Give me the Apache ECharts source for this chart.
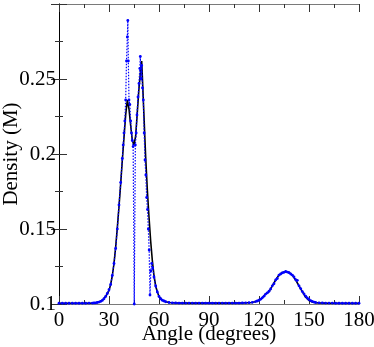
<!DOCTYPE html>
<html>
<head>
<meta charset="utf-8">
<script src="https://cdn.jsdelivr.net/npm/echarts@6/dist/echarts.min.js"></script>
<style>
  html, body { margin: 0; padding: 0; background: #fff; }
  #chart { width: 374px; height: 347px; }
</style>
</head>
<body>
<div id="chart"></div>
<script>
// black solid curve (smoothed density)
const blackAngle = [0, 5, 10, 15, 20, 22, 24, 26, 28, 30, 31, 32, 33, 34, 35, 36, 37, 38, 39, 40, 41, 42, 43, 44, 45, 46, 47, 48, 49, 49.6, 50, 51, 52, 53, 54, 55, 56, 57, 58, 59, 60, 62, 64, 66, 70, 80, 90, 100, 110, 116, 118, 120, 122, 124, 126, 128, 130, 132, 134, 136, 138, 140, 142, 144, 146, 148, 150, 152, 154, 156, 160, 170, 180];
const blackDensity = [0.1005, 0.1005, 0.1005, 0.1005, 0.1006, 0.1008, 0.1013, 0.1025, 0.105, 0.109, 0.113, 0.119, 0.127, 0.138, 0.151, 0.165, 0.180, 0.196, 0.211, 0.226, 0.236, 0.230, 0.219, 0.209, 0.206, 0.212, 0.228, 0.244, 0.256, 0.262, 0.252, 0.225, 0.198, 0.176, 0.158, 0.142, 0.129, 0.119, 0.112, 0.108, 0.105, 0.1025, 0.1015, 0.101, 0.1007, 0.1006, 0.1006, 0.1006, 0.1007, 0.1010, 0.1016, 0.1025, 0.1041, 0.1067, 0.1083, 0.1121, 0.1160, 0.1193, 0.1210, 0.1215, 0.1211, 0.1193, 0.1160, 0.1121, 0.1083, 0.1045, 0.1024, 0.1014, 0.1009, 0.1007, 0.1006, 0.1005, 0.1005];

// blue dotted raw data
const blueAngle = [0, 2, 4, 6, 8, 10, 12, 14, 16, 18, 20, 21, 22, 23, 24, 25, 26, 27, 28, 29, 30, 31, 32, 33, 34, 35, 36, 37, 38, 38.5, 39, 39.5, 40, 40.5, 41, 41.3, 41.6, 42, 42.5, 43, 43.5, 44, 44.5, 45.15, 45.8, 46.3, 46.8, 47.4, 48, 48.5, 48.8, 49.2, 49.6, 50.1, 50.6, 51.1, 51.6, 52.1, 52.6, 53.1, 53.6, 54.1, 54.6, 55.1, 55.6, 56.2, 57, 58, 59, 60, 61, 62, 63, 64, 66, 68, 70, 72, 74, 76, 78, 80, 82, 84, 86, 88, 90, 92, 94, 96, 98, 100, 102, 104, 106, 108, 110, 112, 114, 116, 118, 119, 120, 121, 122, 123, 124, 125, 126, 127, 128, 129, 130, 131, 132, 133, 134, 135, 136, 137, 138, 139, 140, 141, 142, 143, 144, 145, 146, 147, 148, 149, 150, 151, 152, 153, 154, 156, 158, 160, 162, 164, 166, 168, 170, 172, 174, 176, 178, 180];
const blueDensity = [0.1005, 0.1005, 0.1005, 0.1005, 0.1005, 0.1005, 0.1005, 0.1005, 0.1005, 0.1006, 0.1006, 0.1007, 0.1008, 0.101, 0.1013, 0.1017, 0.1024, 0.1035, 0.105, 0.107, 0.1095, 0.113, 0.119, 0.127, 0.137, 0.150, 0.166, 0.181, 0.197, 0.206, 0.214, 0.222, 0.236, 0.262, 0.278, 0.289, 0.262, 0.236, 0.233, 0.222, 0.214, 0.209, 0.205, 0.1, 0.206, 0.214, 0.226, 0.238, 0.247, 0.257, 0.265, 0.250, 0.259, 0.244, 0.236, 0.214, 0.196, 0.186, 0.171, 0.163, 0.150, 0.136, 0.106, 0.122, 0.127, 0.124, 0.118, 0.112, 0.108, 0.105, 0.1035, 0.1025, 0.102, 0.1015, 0.101, 0.1008, 0.1007, 0.1006, 0.1006, 0.1006, 0.1006, 0.1006, 0.1006, 0.1006, 0.1006, 0.1006, 0.1006, 0.1006, 0.1006, 0.1006, 0.1006, 0.1006, 0.1006, 0.1006, 0.1006, 0.1006, 0.1007, 0.1008, 0.1009, 0.1011, 0.1016, 0.1020, 0.1025, 0.1032, 0.1041, 0.1052, 0.1066, 0.1074, 0.1085, 0.1100, 0.1121, 0.1135, 0.1160, 0.1170, 0.1193, 0.1200, 0.1207, 0.1211, 0.1218, 0.1213, 0.1209, 0.1200, 0.1193, 0.1180, 0.1162, 0.1158, 0.1121, 0.1103, 0.1083, 0.1068, 0.1052, 0.1040, 0.1030, 0.1022, 0.1017, 0.1013, 0.1010, 0.1008, 0.1007, 0.1006, 0.1006, 0.1006, 0.1005, 0.1005, 0.1005, 0.1005, 0.1005, 0.1005, 0.1005, 0.1005, 0.1005];

const xTicks = [0, 30, 60, 90, 120, 150, 180];
const yTicks = [0.1, 0.15, 0.2, 0.25];

const pair = (xs, ys) => xs.map((x, i) => [x, ys[i]]);

const serif = 'Liberation Serif';
const frameGrey = '#7a7a7a';

const chart = echarts.init(document.getElementById('chart'));
chart.setOption({
  animation: false,
  grid: { left: 59, top: 4, width: 300, height: 300, outerBoundsMode: 'none', containLabel: false },
  xAxis: [
    {
      type: 'value', min: 0, max: 180, interval: 30, position: 'bottom',
      name: 'Angle (degrees)', nameLocation: 'middle', nameGap: 20, nameMoveOverlap: false,
      nameTextStyle: { fontFamily: serif, fontSize: 21, color: '#000' },
      axisLine: { lineStyle: { color: frameGrey, width: 1 } },
      axisTick: { inside: true, length: 8, lineStyle: { color: '#333' } },
      minorTick: { show: true, splitNumber: 2, length: 4, lineStyle: { color: '#333' } },
      axisLabel: {
        fontFamily: serif, fontSize: 21, color: '#000', margin: 6,
        formatter: v => xTicks.includes(v) ? String(v) : ''
      },
      splitLine: { show: false }
    },
    {
      type: 'value', min: 0, max: 180, interval: 30, position: 'top',
      axisLine: { lineStyle: { color: frameGrey, width: 1 } },
      axisTick: { inside: true, length: 8, lineStyle: { color: '#333' } },
      minorTick: { show: true, splitNumber: 2, length: 4, lineStyle: { color: '#333' } },
      axisLabel: { show: false },
      splitLine: { show: false }
    }
  ],
  yAxis: [
    {
      type: 'value', min: 0.1, max: 0.3, interval: 0.05, position: 'left',
      name: 'Density (M)', nameLocation: 'middle', nameGap: 37, nameMoveOverlap: false,
      nameTextStyle: { fontFamily: serif, fontSize: 21, color: '#000' },
      axisLine: { show: true, lineStyle: { color: frameGrey, width: 1 } },
      axisTick: { show: true, inside: true, length: 8, lineStyle: { color: '#333' } },
      minorTick: { show: true, splitNumber: 2, length: 4, lineStyle: { color: '#333' } },
      axisLabel: {
        fontFamily: serif, fontSize: 21, color: '#000', margin: 3,
        formatter: v => {
          const hit = yTicks.find(t => Math.abs(t - v) < 1e-9);
          return hit !== undefined ? String(hit) : '';
        }
      },
      splitLine: { show: false }
    },
    {
      type: 'value', min: 0.1, max: 0.3, interval: 0.05, position: 'right',
      axisLine: { show: true, lineStyle: { color: '#000', width: 1 } },
      axisTick: { show: true, inside: true, length: 8, lineStyle: { color: '#333' } },
      minorTick: { show: true, splitNumber: 2, length: 4, lineStyle: { color: '#333' } },
      axisLabel: { show: false },
      splitLine: { show: false }
    }
  ],
  series: [
    {
      type: 'line',
      data: pair(blackAngle, blackDensity),
      showSymbol: false,
      lineStyle: { color: '#000', width: 1.6 },
      z: 2
    },
    {
      type: 'line',
      data: pair(blueAngle, blueDensity),
      symbol: 'circle',
      symbolSize: 2.8,
      itemStyle: { color: '#0000ff' },
      lineStyle: { color: '#0000ff', width: 1.2, type: [1.5, 1.5] },
      z: 3
    }
  ]
});
</script>
</body>
</html>
